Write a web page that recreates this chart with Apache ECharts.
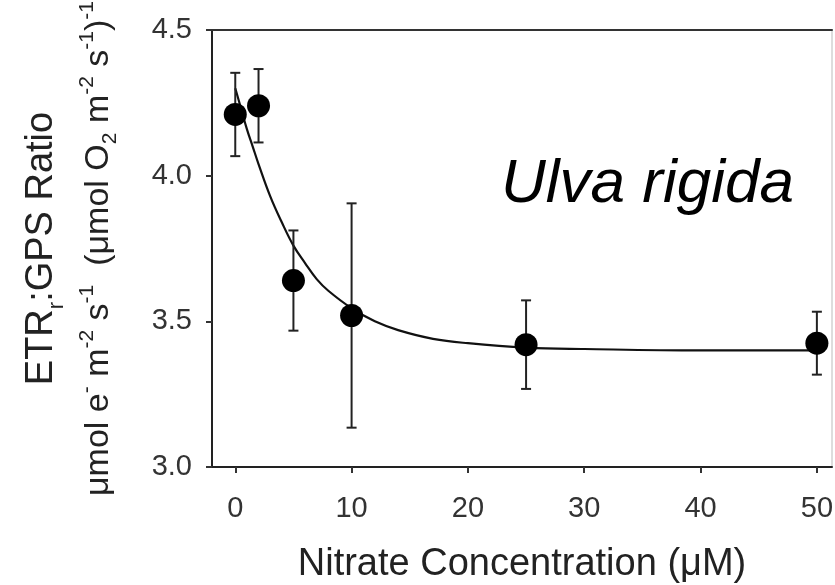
<!DOCTYPE html>
<html>
<head>
<meta charset="utf-8">
<script src="https://cdn.jsdelivr.net/npm/echarts@6/dist/echarts.min.js"></script>
<style>html,body{margin:0;padding:0;background:#fff}#c{width:835px;height:585px}</style>
</head>
<body>
<div id="c"></div>
<script>
// Data
const nitrate = [0, 2, 5, 10, 25, 50];
const ratioMean = [4.21, 4.24, 3.64, 3.52, 3.42, 3.425];
const ratioErr = [0.143, 0.126, 0.172, 0.385, 0.152, 0.108];
const curveX = [0, 0.5, 1, 1.5, 2, 3, 4, 5, 6, 7, 8, 10, 12, 14, 17, 20, 25, 30, 40, 50];
const curveY = [4.30, 4.23, 4.16, 4.10, 4.04, 3.93, 3.84, 3.76, 3.70, 3.645, 3.605, 3.545, 3.50, 3.47, 3.44, 3.425, 3.41, 3.405, 3.40, 3.40];
const xTicks = [0, 10, 20, 30, 40, 50];
const yTicks = [3.0, 3.5, 4.0, 4.5];

const FONT = 'Liberation Sans, Arial, sans-serif';
const chart = echarts.init(document.getElementById('c'), null, {renderer: 'canvas'});

const points = nitrate.map((x, i) => [x, ratioMean[i]]);
const bars = nitrate.map((x, i) => [x, ratioMean[i] - ratioErr[i], ratioMean[i] + ratioErr[i]]);
const curve = curveX.map((x, i) => [x, curveY[i]]);

chart.setOption({
  animation: false,
  backgroundColor: '#fff',
  title: {
    text: 'Ulva rigida',
    left: 496, top: 149,
    textStyle: {fontFamily: FONT, fontStyle: 'italic', fontWeight: 'normal', fontSize: 62, color: '#000'}
  },
  grid: {left: 212, right: 3, top: 30, bottom: 118, containLabel: false, outerBoundsMode: 'none'},
  xAxis: [{
    type: 'value', min: -2, max: 51.3,
    splitLine: {show: false},
    axisLine: {onZero: false, lineStyle: {color: '#222', width: 2}},
    axisTick: {show: true, customValues: xTicks, length: 6, lineStyle: {color: '#333', width: 2}},
    axisLabel: {customValues: xTicks, margin: 27, fontFamily: FONT, fontSize: 29, color: '#333'},
    name: 'Nitrate Concentration (μM)', nameLocation: 'middle', nameGap: 79,
    nameTextStyle: {fontFamily: FONT, fontSize: 38, color: '#222'}
  }, {
    type: 'value', min: -2, max: 51.3, position: 'top',
    splitLine: {show: false}, axisTick: {show: false}, axisLabel: {show: false},
    axisLine: {onZero: false, lineStyle: {color: '#333', width: 2}}
  }],
  yAxis: [{
    type: 'value', min: 3.0, max: 4.5, interval: 0.5,
    splitLine: {show: false},
    axisLine: {show: true, onZero: false, lineStyle: {color: '#222', width: 2}},
    axisTick: {show: true, length: 6, lineStyle: {color: '#333', width: 2}},
    axisLabel: {margin: 20, fontFamily: FONT, fontSize: 29, color: '#333', formatter: v => v.toFixed(1)},
    name: '{a|ETR}{as|r}{a|:GPS Ratio}\n{b|μmol e}{bs|-}{b| m}{bs|-2}{b| s}{bs|-1}{b|  (μmol O}{bb|2}{b| m}{bs|-2}{b| s}{bs|-1}{b|)}{bs|-1}',
    nameLocation: 'middle', nameRotate: 90, nameGap: 91,
    nameTextStyle: {
      fontFamily: FONT, color: '#222', align: 'center',
      rich: {
        a: {fontFamily: FONT, fontSize: 38, color: '#222', lineHeight: 70},
        as: {fontFamily: FONT, fontSize: 22, color: '#222', verticalAlign: 'bottom', lineHeight: 70, padding: [0, 0, 9, 0]},
        b: {fontFamily: FONT, fontSize: 34, color: '#222', lineHeight: 44},
        bs: {fontFamily: FONT, fontSize: 21, color: '#222', verticalAlign: 'top', lineHeight: 44},
        bb: {fontFamily: FONT, fontSize: 21, color: '#222', verticalAlign: 'bottom', lineHeight: 44}
      }
    }
  }, {
    type: 'value', min: 3.0, max: 4.5, position: 'right',
    splitLine: {show: false}, axisTick: {show: false}, axisLabel: {show: false},
    axisLine: {show: true, onZero: false, lineStyle: {color: '#ddd', width: 2}}
  }],
  series: [{
    type: 'line', data: curve, smooth: 0.4, showSymbol: false, z: 2,
    lineStyle: {color: '#111', width: 2.2}
  }, {
    type: 'custom', data: bars, z: 3,
    renderItem: function (params, api) {
      const x = api.value(0);
      const lo = api.coord([x, api.value(1)]);
      const hi = api.coord([x, api.value(2)]);
      const cap = 5;
      const st = {stroke: '#222', lineWidth: 2};
      return {type: 'group', children: [
        {type: 'line', shape: {x1: lo[0], y1: lo[1], x2: hi[0], y2: hi[1]}, style: st},
        {type: 'line', shape: {x1: lo[0] - cap, y1: lo[1], x2: lo[0] + cap, y2: lo[1]}, style: st},
        {type: 'line', shape: {x1: hi[0] - cap, y1: hi[1], x2: hi[0] + cap, y2: hi[1]}, style: st}
      ]};
    }
  }, {
    type: 'scatter', data: points, symbol: 'circle', symbolSize: 23, z: 4,
    itemStyle: {color: '#000', opacity: 1}
  }]
});
</script>
</body>
</html>
